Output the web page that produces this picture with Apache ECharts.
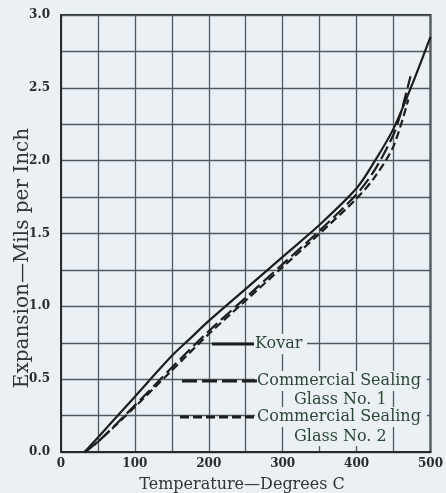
<!DOCTYPE html>
<html>
<head>
<meta charset="utf-8">
<script src="https://cdn.jsdelivr.net/npm/echarts@6/dist/echarts.min.js"></script>
<style>
html,body{margin:0;padding:0;background:#eaf0f3;}
#chart{width:446px;height:493px;}
</style>
</head>
<body>
<div id="chart"></div>
<script>
// ---- data ----
var kovarT  = [32, 50, 100, 150, 175, 200, 250, 300, 350, 400, 425, 450, 475, 500];
var kovarV  = [0, 0.10, 0.38, 0.66, 0.78, 0.90, 1.12, 1.34, 1.56, 1.81, 2.00, 2.22, 2.52, 2.85];
var glass1T = [32, 50, 100, 150, 200, 250, 300, 350, 400, 425, 450, 460, 473];
var glass1V = [0, 0.07, 0.32, 0.58, 0.83, 1.06, 1.29, 1.52, 1.77, 1.94, 2.18, 2.33, 2.58];
var glass2T = [32, 50, 100, 150, 200, 250, 300, 350, 400, 425, 450, 470];
var glass2V = [0, 0.07, 0.31, 0.56, 0.81, 1.04, 1.27, 1.50, 1.74, 1.89, 2.10, 2.42];
var xTicks = [0, 100, 200, 300, 400, 500];
var yTicks = [0.0, 0.5, 1.0, 1.5, 2.0, 2.5, 3.0];
var seriesNames = ['Kovar', 'Commercial Sealing Glass No. 1', 'Commercial Sealing Glass No. 2'];

function pairs(t, v){ return t.map(function(x,i){ return [x, v[i]]; }); }

var chart = echarts.init(document.getElementById('chart'));
var serif = 'DejaVu Serif';
var ink = '#1d1d1d';
var legendInk = '#2c4636';
var bg = '#eaf0f3';

function mask(x, y, w, h){
  return {type: 'rect', shape: {x: x, y: y, width: w, height: h}, style: {fill: bg}, z: 100};
}
function label(txt, x, y){
  return {type: 'text', x: x, y: y, z: 101, style: {text: txt, font: '16px "DejaVu Serif"', fill: legendInk, verticalAlign: 'middle'}};
}

chart.setOption({
  backgroundColor: bg,
  animation: false,
  grid: {left: 61, right: 14, top: 15, bottom: 41, show: true, borderColor: '#2a2a2a', borderWidth: 2},
  xAxis: {
    type: 'value', min: 0, max: 500, interval: 50,
    axisLine: {show: true, lineStyle: {color: '#2a2a2a', width: 2}},
    axisTick: {show: false},
    splitLine: {show: true, lineStyle: {color: '#4f5b63', width: 1.3}},
    axisLabel: {
      margin: 6, color: '#2b2b2b', fontFamily: serif, fontWeight: 'bold', fontSize: 12,
      formatter: function(v){ return xTicks.indexOf(v) >= 0 ? String(v) : ''; }
    }
  },
  yAxis: {
    type: 'value', min: 0, max: 3, interval: 0.25,
    axisLine: {show: true, lineStyle: {color: '#2a2a2a', width: 2}},
    axisTick: {show: false},
    splitLine: {show: true, lineStyle: {color: '#4f5b63', width: 1.3}},
    axisLabel: {
      margin: 11, color: '#2b2b2b', fontFamily: serif, fontWeight: 'bold', fontSize: 12,
      formatter: function(v){
        for (var i = 0; i < yTicks.length; i++) { if (Math.abs(yTicks[i] - v) < 1e-6) return v.toFixed(1); }
        return '';
      }
    }
  },
  series: [
    {name: seriesNames[0], type: 'line', data: pairs(kovarT, kovarV), smooth: 0.3, showSymbol: false,
     lineStyle: {color: ink, width: 2.2}},
    {name: seriesNames[1], type: 'line', data: pairs(glass1T, glass1V), smooth: 0.3, showSymbol: false,
     lineStyle: {color: ink, width: 2.2, type: [14, 5]}},
    {name: seriesNames[2], type: 'line', data: pairs(glass2T, glass2V), smooth: 0.3, showSymbol: false,
     lineStyle: {color: ink, width: 2.2, type: [8, 4]}}
  ],
  graphic: [
    // masks behind legend text (grid lines hidden as in the print)
    mask(253, 334, 54, 20),
    mask(255, 371, 172, 20),
    mask(292, 391, 98, 19),
    mask(255, 407, 172, 20),
    mask(292, 427, 98, 19),
    // legend samples
    {type: 'line', z: 102, shape: {x1: 212, y1: 344, x2: 254, y2: 344}, style: {stroke: ink, lineWidth: 3}},
    {type: 'line', z: 102, shape: {x1: 182, y1: 381, x2: 257, y2: 381}, style: {stroke: ink, lineWidth: 3, lineDash: [15, 5]}},
    {type: 'line', z: 102, shape: {x1: 180, y1: 417, x2: 257, y2: 417}, style: {stroke: ink, lineWidth: 3, lineDash: [9, 4]}},
    // legend texts
    label('Kovar', 255, 344),
    label('Commercial Sealing', 257, 381),
    label('Glass No. 1', 294, 400),
    label('Commercial Sealing', 257, 417),
    label('Glass No. 2', 294, 437),
    // axis titles
    {type: 'text', x: 242, y: 485, style: {text: 'Temperature—Degrees C', font: '16px "DejaVu Serif"', fill: '#333', align: 'center', verticalAlign: 'middle'}},
    {type: 'text', x: 23, y: 258, rotation: Math.PI / 2, style: {text: 'Expansion—Mils per Inch', font: '20px "DejaVu Serif"', fill: '#333', align: 'center', verticalAlign: 'middle'}}
  ]
});
</script>
</body>
</html>
